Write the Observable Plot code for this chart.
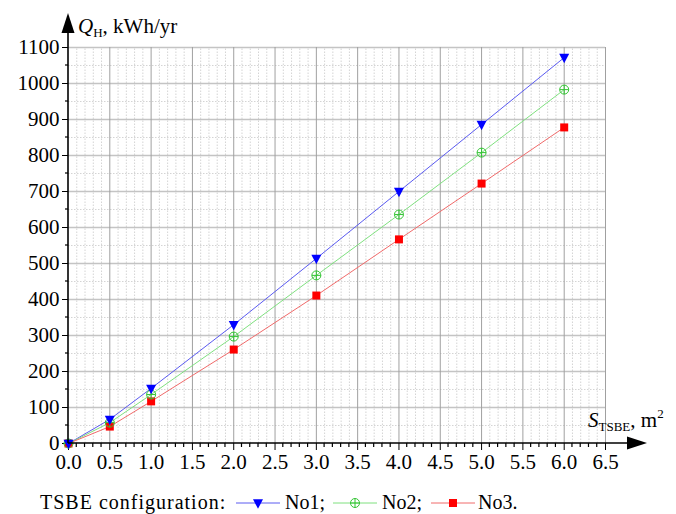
<!DOCTYPE html>
<html>
<head>
<meta charset="utf-8">
<script src="https://cdn.jsdelivr.net/npm/d3@7"></script>
<script src="https://cdn.jsdelivr.net/npm/@observablehq/plot@0.6"></script>
<style>
  body { margin: 0; background: #fff; font-family: "Liberation Serif", serif; }
  #wrap { position: relative; width: 676px; height: 514px; overflow: hidden; }
  #legend { position: absolute; left: 0; top: 480px; width: 676px; height: 34px; font-size: 20px; color: #000; font-family: "Liberation Serif", serif; }
  #legend .it { position: absolute; top: 11px; white-space: nowrap; line-height: 1.15; }
  #legend svg { position: absolute; top: 15px; }
  #wrap svg text { font-family: "Liberation Serif", serif; }
</style>
</head>
<body>
<div id="wrap"></div>
<script>
// ---- data ----
const areas = [0, 0.5, 1, 2, 3, 4, 5, 6];
const no1 = [0, 67, 153, 330, 514, 700, 886, 1072];
const no2 = [0, 58, 136, 297, 467, 636, 808, 983];
const no3 = [0, 47, 117, 261, 411, 567, 722, 878];
const seriesNames = ["No1", "No2", "No3"];
const xMajor = d3.range(0, 14).map(i => i * 0.5);          // 0.0 .. 6.5
const xMinor = d3.range(0, 66).filter(i => i % 5 !== 0).map(i => i / 10);
const yMajor = d3.range(0, 12).map(i => i * 100);          // 0 .. 1100
const yMinor = d3.range(0, 11).map(i => i * 100 + 50);

const lineColors = ["#5a5af0", "#7fe07f", "#f06a6a"];
const markColors = ["#0000ff", "#33c433", "#ff0000"];

const table = [];
[no1, no2, no3].forEach((vals, s) => {
  areas.forEach((a, i) => table.push({series: seriesNames[s], area: a, q: vals[i]}));
});

// custom symbols
const triDown = { draw(ctx, size) { const r = Math.sqrt(size / Math.PI);
  ctx.moveTo(-r, -r * 0.75); ctx.lineTo(r, -r * 0.75); ctx.lineTo(0, r * 1.15); ctx.closePath(); } };
const circPlus = { draw(ctx, size) { const r = Math.sqrt(size / Math.PI);
  ctx.moveTo(r, 0); ctx.arc(0, 0, r, 0, 2 * Math.PI);
  ctx.moveTo(-r, 0); ctx.lineTo(r, 0); ctx.moveTo(0, -r); ctx.lineTo(0, r); } };
const squareSym = { draw(ctx, size) { const r = Math.sqrt(size / Math.PI);
  ctx.rect(-r, -r, 2 * r, 2 * r); } };

const serif = "Liberation Serif";

const chart = Plot.plot({
  width: 676,
  height: 480,
  marginLeft: 68,
  marginRight: 71,
  marginTop: 47,
  marginBottom: 37,
  style: { fontFamily: serif, fontSize: "21px", color: "#000", background: "#fff" },
  x: { domain: [0, 6.5], ticks: xMajor, tickSize: 7, tickPadding: 4, tickFormat: d3.format(".1f"), label: null },
  y: { domain: [0, 1100], ticks: yMajor, tickSize: 6, tickPadding: 3, tickFormat: d3.format("d"), label: null },
  marks: [
    Plot.ruleX(xMinor, { y1: 0, y2: 1100, stroke: "#d4d4d4", strokeWidth: 1, strokeDasharray: "1.5,1.5" }),
    Plot.ruleY(yMinor, { x1: 0, x2: 6.5, stroke: "#d4d4d4", strokeWidth: 1, strokeDasharray: "1.5,1.5" }),
    Plot.ruleY(yMajor.filter(v => v > 0), { x1: 0, x2: 6.5, stroke: "#c4c4c4", strokeWidth: 1.6 }),
    Plot.ruleX(xMajor.filter(v => v > 0), { y1: 0, y2: 1100, stroke: "#a0a0a0", strokeWidth: 1 }),
    Plot.line(table, { x: "area", y: "q", z: "series", stroke: d => lineColors[seriesNames.indexOf(d.series)], strokeWidth: 1 }),
    Plot.dot(table.filter(d => d.series === "No3"), { x: "area", y: "q", r: 4, symbol: squareSym, fill: markColors[2], stroke: "none" }),
    Plot.dot(table.filter(d => d.series === "No2"), { x: "area", y: "q", r: 4.5, symbol: circPlus, fill: "none", stroke: markColors[1], strokeWidth: 1 }),
    Plot.dot(table.filter(d => d.series === "No1"), { x: "area", y: "q", r: 5, symbol: triDown, fill: markColors[0], stroke: "none" })
  ]
});

// axis lines with arrows, minor ticks and axis titles
const sx = chart.scale("x"), sy = chart.scale("y");
const x0 = sx.apply(0), y0 = sy.apply(0), yTop = sy.apply(1100);
const svg = d3.select(chart);
svg.selectAll("[aria-label$='axis'] path, [aria-label$='axis'] line").attr("stroke", "#000").attr("stroke-width", 1.2);
svg.selectAll("text").attr("font-family", serif);
const g = svg.append("g").attr("text-anchor", "start").attr("font-family", serif);
g.selectAll(".mx").data(xMinor).join("line")
  .attr("x1", d => sx.apply(d)).attr("x2", d => sx.apply(d)).attr("y1", y0).attr("y2", y0 + 4)
  .attr("stroke", "#000").attr("stroke-width", 1.2);
g.selectAll(".my").data(yMinor).join("line")
  .attr("x1", x0).attr("x2", x0 - 3).attr("y1", d => sy.apply(d)).attr("y2", d => sy.apply(d))
  .attr("stroke", "#000").attr("stroke-width", 1.2);
g.append("line").attr("x1", x0).attr("x2", x0).attr("y1", y0).attr("y2", yTop - 20).attr("stroke", "#000").attr("stroke-width", 1.6);
g.append("path").attr("d", `M${x0},${yTop - 34}L${x0 - 6.5},${yTop - 14}L${x0 + 6.5},${yTop - 14}Z`).attr("fill", "#000");
const xTip = sx.apply(6.5) + 42;
g.append("line").attr("x1", x0).attr("x2", xTip - 15).attr("y1", y0).attr("y2", y0).attr("stroke", "#000").attr("stroke-width", 1.6);
g.append("path").attr("d", `M${xTip},${y0}L${xTip - 20},${y0 - 6.5}L${xTip - 20},${y0 + 6.5}Z`).attr("fill", "#000");

const tq = g.append("text").attr("x", x0 + 10).attr("y", yTop - 14).attr("font-size", 21).attr("fill", "#000");
tq.append("tspan").attr("font-style", "italic").text("Q");
tq.append("tspan").attr("font-size", 13).attr("dy", 4).text("H");
tq.append("tspan").attr("dy", -4).text(", kWh/yr");

const ts = g.append("text").attr("x", sx.apply(6.5) - 17).attr("y", y0 - 16).attr("font-size", 21).attr("fill", "#000");
ts.append("tspan").attr("font-style", "italic").text("S");
ts.append("tspan").attr("font-size", 13).attr("dy", 4).text("TSBE");
ts.append("tspan").attr("dy", -4).text(", m");
ts.append("tspan").attr("font-size", 13).attr("dy", -9).text("2");

const wrap = document.getElementById("wrap");
wrap.appendChild(chart);

// legend
const legend = document.createElement("div");
legend.id = "legend";
wrap.appendChild(legend);
const addText = (txt, left, ls) => {
  const s = document.createElement("span");
  s.className = "it"; s.style.left = left + "px"; s.textContent = txt;
  if (ls) s.style.letterSpacing = ls;
  legend.appendChild(s);
};
const symbols = [triDown, circPlus, squareSym];
const addSwatch = (i, left) => {
  const sw = d3.create("svg").attr("width", 44).attr("height", 16).style("left", left + "px");
  sw.append("line").attr("x1", 0).attr("x2", 44).attr("y1", 8).attr("y2", 8).attr("stroke", lineColors[i]).attr("stroke-width", 1);
  const r = [5, 4.5, 4][i];
  sw.append("path").attr("transform", "translate(22,8)")
    .attr("d", d3.symbol(symbols[i], Math.PI * r * r)())
    .attr("fill", i === 1 ? "none" : markColors[i])
    .attr("stroke", i === 1 ? markColors[1] : "none");
  legend.appendChild(sw.node());
};
addText("TSBE configuration:", 40, "1px");
addSwatch(0, 236); addText(seriesNames[0] + ";", 285);
addSwatch(1, 333); addText(seriesNames[1] + ";", 382);
addSwatch(2, 431); addText(seriesNames[2] + ".", 478);
</script>
</body>
</html>
